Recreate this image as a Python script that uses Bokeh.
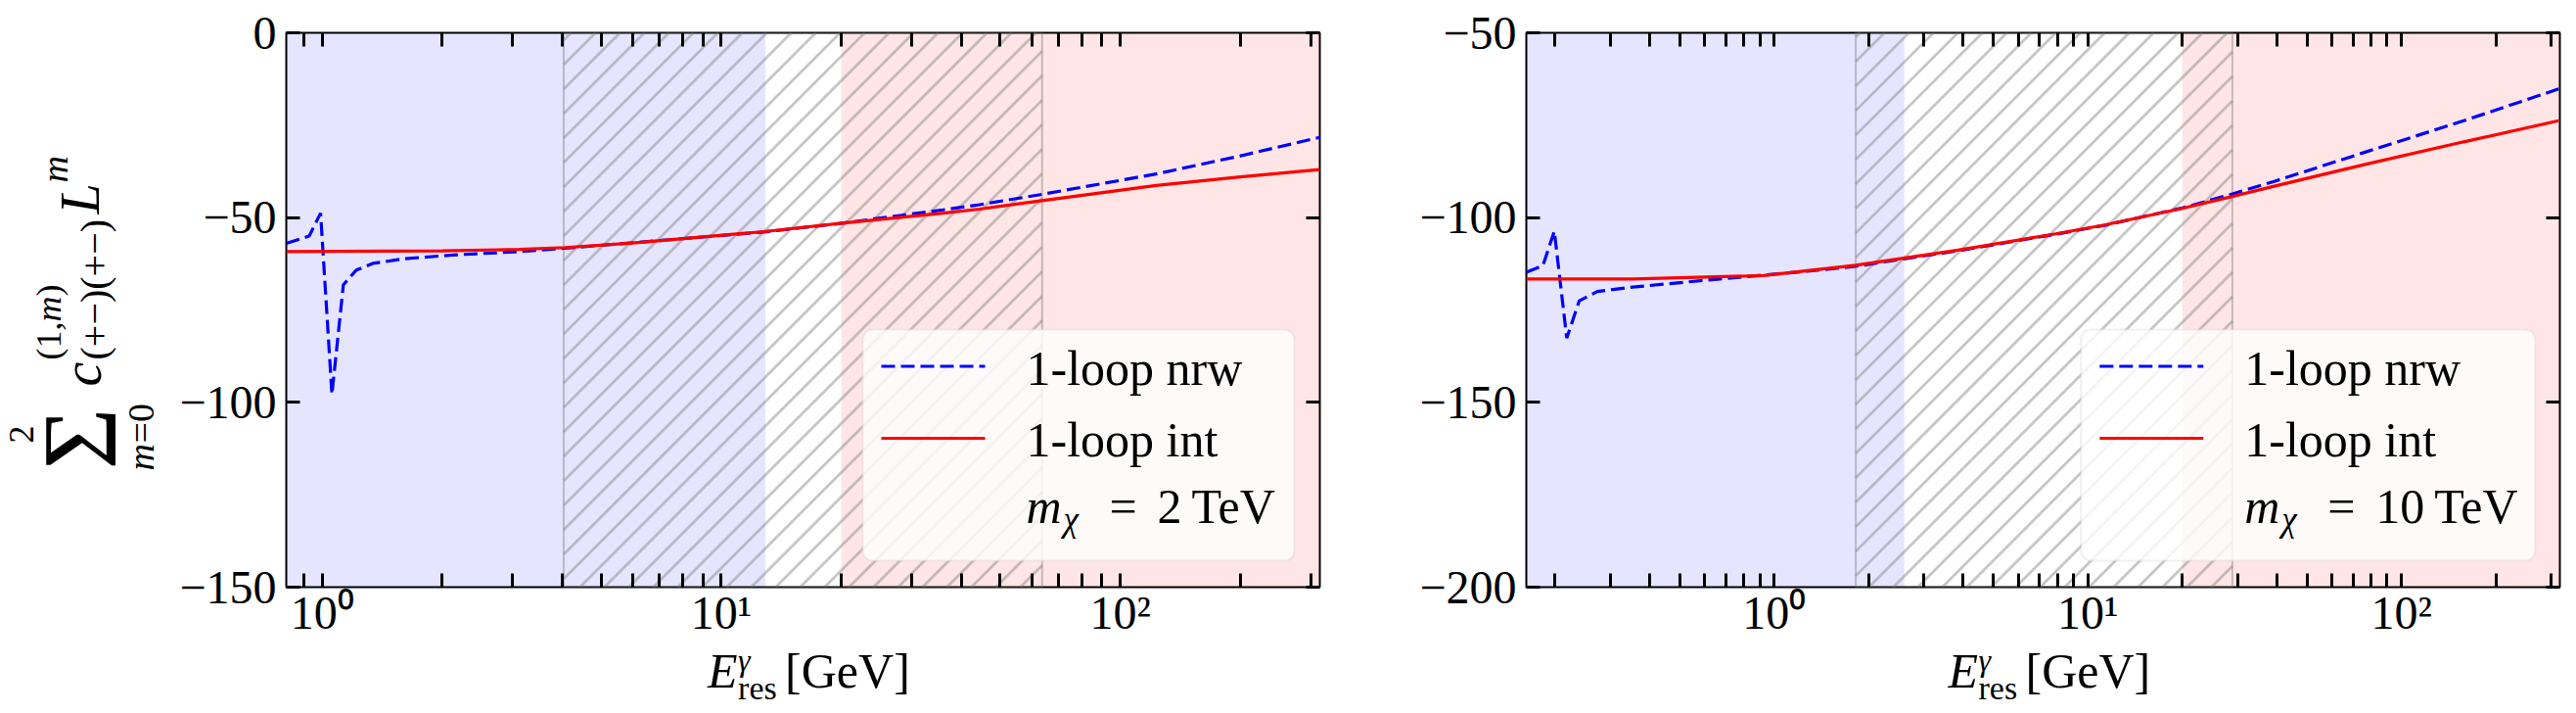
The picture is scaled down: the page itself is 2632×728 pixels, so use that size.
import math
from bokeh.plotting import figure
from bokeh.models import (Range1d, LogAxis, LinearAxis, FixedTicker, BoxAnnotation,
                          Label, Arrow)
from bokeh.layouts import row, column
from bokeh.embed import file_html
from bokeh.resources import INLINE

# ---------------------------------------------------------------- data
# m_chi = 2 TeV : one-loop coefficient sum versus E_res^gamma [GeV]
x_nrw_2tev = [0.813, 0.928, 0.991, 1.058, 1.13, 1.218, 1.339, 1.616, 2.14, 3.12,
              4.06, 12.8, 19.8, 36.0, 44.4, 63.0, 123.0, 200.0, 316.0]
y_nrw_2tev = [-57.0, -55.0, -48.8, -97.8, -68.2, -64.2, -62.4, -61.1, -60.1, -59.2,
              -58.3, -53.9, -51.6, -47.9, -46.5, -43.8, -38.2, -33.3, -28.3]
x_int_2tev = [0.813, 2.0, 3.12, 4.06, 6.0, 12.8, 19.8, 36.0, 44.4, 63.0, 123.0, 200.0, 316.0]
y_int_2tev = [-59.2, -59.0, -58.6, -58.1, -56.9, -53.8, -51.6, -48.8, -47.7, -45.5, -41.3,
              -39.0, -37.0]

# m_chi = 10 TeV
x_nrw_10tev = [0.162, 0.183, 0.199, 0.218, 0.239, 0.273, 0.354, 0.671, 1.276, 1.815,
               2.58, 3.85, 7.9, 11.3, 20.0, 28.9, 39.3, 76.6, 158.0, 317.0]
y_nrw_10tev = [-114.8, -113.0, -103.7, -132.6, -122.5, -120.0, -118.8, -116.6, -114.5, -113.2,
               -111.2, -109.0, -104.5, -102.1, -97.4, -93.6, -90.2, -82.3, -73.8, -65.2]
x_int_10tev = [0.162, 0.354, 0.926, 1.815, 2.58, 3.85, 7.9, 11.3, 20.0, 28.9, 39.3,
               76.6, 158.0, 317.0]
y_int_10tev = [-116.6, -116.6, -115.7, -112.9, -111.0, -108.8, -104.4, -102.0, -97.5, -94.3,
               -91.5, -85.6, -79.5, -73.8]

# axis limits and ticks
xlim_2tev = (0.813, 316.2)
ylim_2tev = (-150, 0)
xlim_10tev = (0.162, 320.0)
ylim_10tev = (-200, -50)
yticks_2tev = [-150, -100, -50, 0]
yticks_10tev = [-200, -150, -100, -50]
xticks_major = [1, 10, 100]
xtick_labels = {1: "10\u2070", 10: "10\u00b9", 100: "10\u00b2"}

# shaded energy windows [GeV]: (left, right)
blue_band_2tev = (0.813, 12.9)
hatch_band_2tev = (4.03, 63.7)
red_band_2tev = (20.0, 316.2)
blue_band_10tev = (0.162, 2.6)
hatch_band_10tev = (1.82, 28.9)
red_band_10tev = (20.0, 320.0)

series_labels = ["1-loop nrw", "1-loop int"]
mass_labels = ["2\u2009TeV", "10\u2009TeV"]

# ---------------------------------------------------------------- style
FONT = "Liberation Serif"
TICK_PX = "48px"
BLUE = "#0000ff"
RED = "#ff0000"
DASH = "14 6"
LW = 3.2
FRAME_W, FRAME_H = 1056, 566
TOP, BOTTOM = 33, 53
YLAB_W = 175
PAGE_H = 728
MID = 0.3375          # centre of the text line box above the baseline, in em
HATCH_STEP = 25.0     # hatch spacing in pixels
XLAB_BASE = 699       # baseline of the x axis title on the page

minor_ticks = [m * 10.0 ** e for e in (-1, 0, 1, 2) for m in range(2, 10)]


def style_axis(ax, labels=True):
    ax.axis_line_color = None
    ax.major_tick_in = 14
    ax.major_tick_out = 0
    ax.minor_tick_in = 14
    ax.minor_tick_out = 0
    ax.major_tick_line_width = 3
    ax.minor_tick_line_width = 3
    ax.major_tick_line_color = "black"
    ax.minor_tick_line_color = "black"
    ax.major_label_text_font = FONT
    if labels:
        ax.major_label_text_font_size = TICK_PX
        ax.major_label_text_color = "black"
    else:
        # tick marks only on the top / right edges
        ax.major_label_text_font_size = "2px"
        ax.major_label_text_alpha = 0
        ax.major_label_standoff = 0


def make_panel(border_left, border_right, xlim, ylim, yticks):
    p = figure(frame_width=FRAME_W, frame_height=FRAME_H,
               x_axis_type="log", x_range=Range1d(*xlim), y_range=Range1d(*ylim),
               min_border_left=border_left, min_border_right=border_right,
               min_border_top=TOP, min_border_bottom=BOTTOM,
               toolbar_location=None, output_backend="svg")
    p.grid.visible = False
    p.outline_line_color = "black"
    p.outline_line_width = 2
    p.background_fill_color = "white"
    p.border_fill_color = "white"

    xt = FixedTicker(ticks=xticks_major, minor_ticks=minor_ticks)
    yt = FixedTicker(ticks=yticks, minor_ticks=[])
    ylab = {v: ("\u2212" + str(abs(v))) if v < 0 else str(v) for v in yticks}

    xa = p.xaxis[0]
    xa.ticker = xt
    xa.major_label_overrides = xtick_labels
    style_axis(xa)
    xa.major_label_standoff = -1
    ya = p.yaxis[0]
    ya.ticker = yt
    ya.major_label_overrides = ylab
    style_axis(ya)
    ya.major_label_standoff = 10

    top = LogAxis(ticker=xt)
    style_axis(top, labels=False)
    p.add_layout(top, "above")
    right = LinearAxis(ticker=yt)
    style_axis(right, labels=False)
    p.add_layout(right, "right")
    return p


def blank(width, height):
    f = figure(width=width, height=height, x_range=Range1d(0, 1), y_range=Range1d(0, 1),
               min_border=0, x_axis_location=None, y_axis_location=None,
               toolbar_location=None, output_backend="svg")
    f.grid.visible = False
    f.outline_line_color = None
    f.background_fill_color = "white"
    f.border_fill_color = "white"
    return f


def add_bands(p, xlim, ylim, blue, hatch, red):
    p.add_layout(BoxAnnotation(left=blue[0], right=blue[1], fill_color="blue",
                               fill_alpha=0.1, line_color=None, level="image"))
    p.add_layout(BoxAnnotation(left=red[0], right=red[1], fill_color="red",
                               fill_alpha=0.1, line_color=None, level="image"))
    p.add_layout(BoxAnnotation(left=hatch[0], right=hatch[1], fill_color=None,
                               fill_alpha=0, line_color="gray", line_alpha=0.45,
                               line_width=2, level="image"))
    # 45 degree hatching inside the hatched window, spaced HATCH_STEP pixels
    lx0, lx1 = math.log10(xlim[0]), math.log10(xlim[1])
    ppd = FRAME_W / (lx1 - lx0)
    ppu = FRAME_H / (ylim[1] - ylim[0])
    xa = (math.log10(hatch[0]) - lx0) * ppd
    xb = (math.log10(hatch[1]) - lx0) * ppd
    x0s, y0s, x1s, y1s = [], [], [], []
    c = math.floor((xa - FRAME_H) / HATCH_STEP) * HATCH_STEP
    while c < xb:
        s, e = max(xa, c), min(xb, c + FRAME_H)
        if e > s:
            x0s.append(10 ** (lx0 + s / ppd))
            y0s.append(ylim[0] + (s - c) / ppu)
            x1s.append(10 ** (lx0 + e / ppd))
            y1s.append(ylim[0] + (e - c) / ppu)
        c += HATCH_STEP
    p.segment(x0s, y0s, x1s, y1s, line_color="gray", line_alpha=0.45,
              line_width=2.8, level="underlay")


def text(p, x, y, s, size, italic=False, angle=0.0, font=FONT, level="annotation"):
    """Place text by its baseline point; for rotated text x is the baseline column."""
    if angle:
        x -= MID * size
    else:
        y -= MID * size
    p.add_layout(Label(x=x, y=y, x_units="canvas", y_units="canvas", text=s,
                       angle=angle, text_font=font, text_font_size=f"{size}px",
                       text_font_style="italic" if italic else "normal",
                       text_align="left", text_baseline="middle",
                       text_color="black", level=level))


def xlabel(f, cx, b):
    x0 = cx - 97
    text(f, x0, b, "E", 50, italic=True)
    text(f, x0 + 31, b - 17, "\u03b3", 32, italic=True)
    text(f, x0 + 31, b + 12, "res", 34)
    text(f, x0 + 79, b, "[GeV]", 50)


def legend(p, x0, right, mass):
    p.add_layout(BoxAnnotation(left=x0, right=right, top=336, bottom=572,
                               left_units="canvas", right_units="canvas",
                               top_units="canvas", bottom_units="canvas",
                               fill_color="white", fill_alpha=0.8,
                               line_color="#cccccc", line_width=2,
                               border_radius=10, level="overlay"))
    for y, color, dash in ((373.5, BLUE, DASH), (447, RED, "solid")):
        p.add_layout(Arrow(end=None, x_start=x0 + 19, y_start=y, x_end=x0 + 125, y_end=y,
                           start_units="canvas", end_units="canvas",
                           line_color=color, line_width=LW, line_dash=dash,
                           level="overlay"))
    tx = x0 + 167
    text(p, tx, 392, series_labels[0], 50, level="overlay")
    text(p, tx, 465, series_labels[1], 50, level="overlay")
    text(p, tx, 533, "m", 50, italic=True, level="overlay")
    text(p, tx + 38, 542, "\u03c7", 35, italic=True, level="overlay")
    text(p, tx + 85, 533, "=", 50, level="overlay")
    text(p, tx + 134, 533, mass, 50, level="overlay")


# ---------------------------------------------------------------- y label column
ylab_fig = blank(YLAB_W, PAGE_H)
R = math.pi / 2
# sum_{m=0}^{2} c^{(1,m)}_{(+-)(+-)} L^m, read bottom to top
text(ylab_fig, 34, 452, "2", 36, angle=R)
text(ylab_fig, 117, 479, "\u03a3", 108, angle=R)
text(ylab_fig, 156, 480, "m", 38, italic=True, angle=R)
text(ylab_fig, 156, 452, "=0", 38, angle=R)
text(ylab_fig, 102, 394, "c", 56, italic=True, angle=R)
text(ylab_fig, 62, 367, "(1,", 36, angle=R)
text(ylab_fig, 62, 328, "m", 36, italic=True, angle=R)
text(ylab_fig, 62, 302, ")", 36, angle=R)
text(ylab_fig, 109, 367, "(+\u2212)(+\u2212)", 40, angle=R)
text(ylab_fig, 100, 218, "L", 56, italic=True, angle=R)
text(ylab_fig, 68, 186, "m", 38, italic=True, angle=R)

split = TOP + FRAME_H + BOTTOM

# ---------------------------------------------------------------- left panel
p1 = make_panel(292 - YLAB_W, 52, xlim_2tev, ylim_2tev, yticks_2tev)
add_bands(p1, xlim_2tev, ylim_2tev, blue_band_2tev, hatch_band_2tev, red_band_2tev)
p1.line(x_nrw_2tev, y_nrw_2tev, line_color=BLUE, line_width=LW, line_dash=DASH)
p1.line(x_int_2tev, y_int_2tev, line_color=RED, line_width=LW)
legend(p1, 881 - YLAB_W, 1322 - YLAB_W, mass_labels[0])
x1_fig = blank(292 - YLAB_W + FRAME_W + 52, PAGE_H - split)
xlabel(x1_fig, 819.6 - YLAB_W, XLAB_BASE - split)

# ---------------------------------------------------------------- right panel
p2 = make_panel(159, 17, xlim_10tev, ylim_10tev, yticks_10tev)
add_bands(p2, xlim_10tev, ylim_10tev, blue_band_10tev, hatch_band_10tev, red_band_10tev)
p2.line(x_nrw_10tev, y_nrw_10tev, line_color=BLUE, line_width=LW, line_dash=DASH)
p2.line(x_int_10tev, y_int_10tev, line_color=RED, line_width=LW)
legend(p2, 725.8, 1189.7, mass_labels[1])
x2_fig = blank(159 + FRAME_W + 17, PAGE_H - split)
xlabel(x2_fig, 687.0, XLAB_BASE - split)

layout = row(ylab_fig, column(p1, x1_fig), column(p2, x2_fig))
open("out.html", "w").write(file_html(layout, INLINE))
